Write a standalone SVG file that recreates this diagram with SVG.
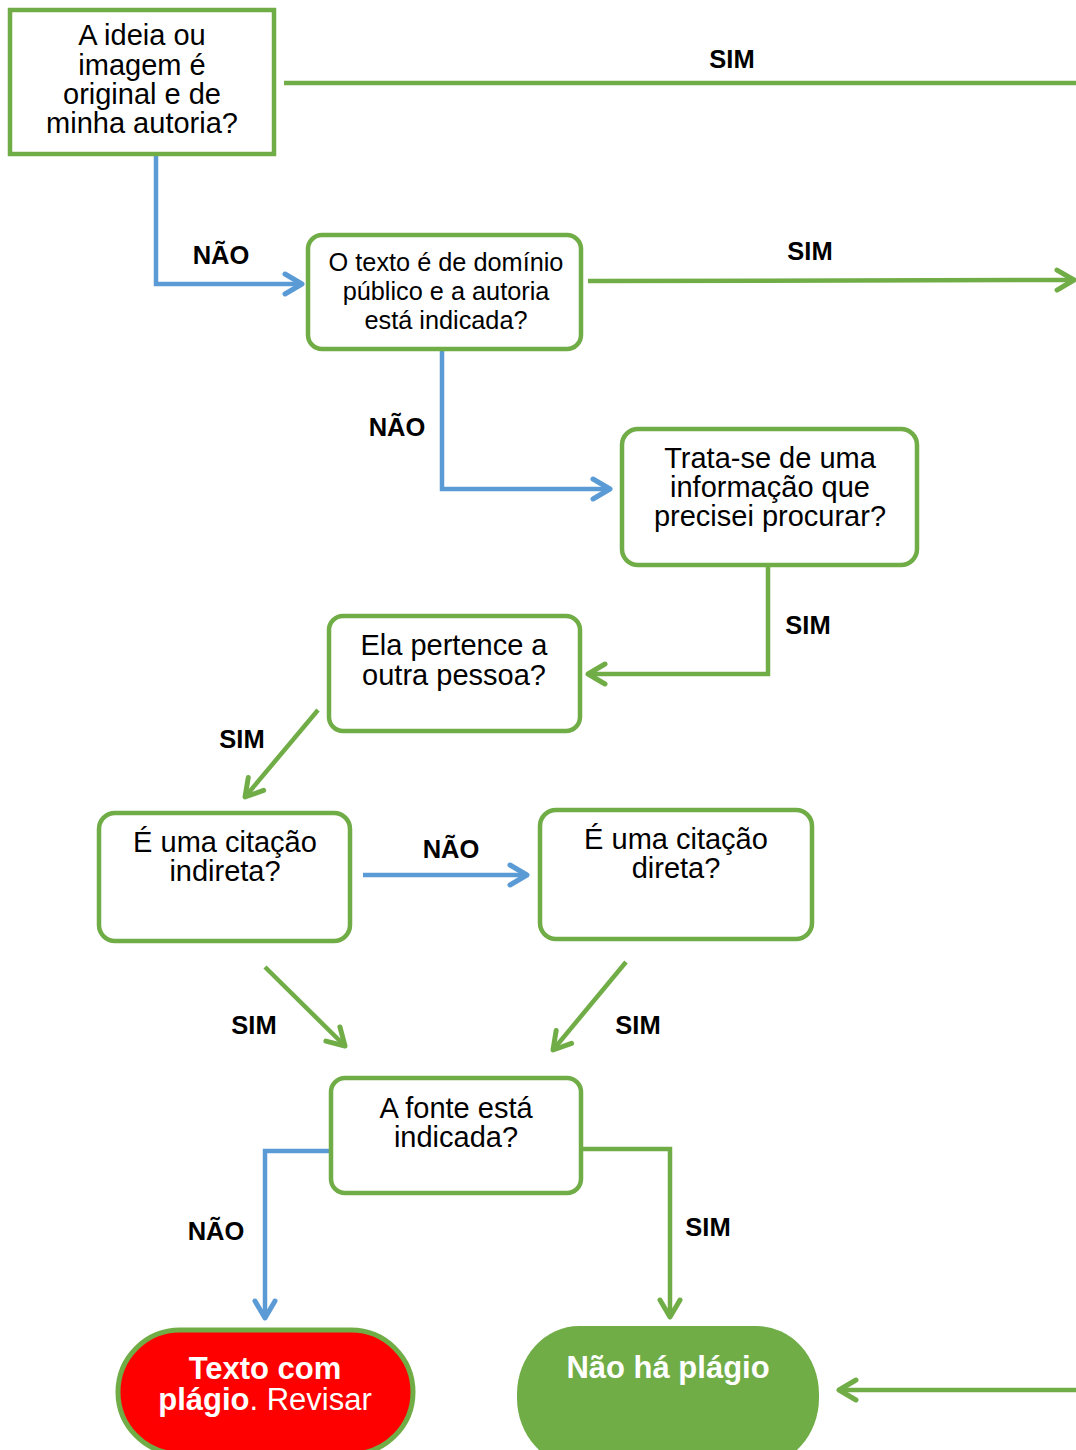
<svg xmlns="http://www.w3.org/2000/svg" width="1076" height="1450" viewBox="0 0 1076 1450">
<defs>
<style>
.box{fill:#fff;stroke:#70AD47;stroke-width:4.5}
.t{font-family:"Liberation Sans",Arial,sans-serif;font-size:29px;fill:#000;text-anchor:middle}
.ts{font-size:25.3px}
.lbl{font-family:"Liberation Sans",Arial,sans-serif;font-size:25.5px;font-weight:bold;fill:#000;text-anchor:middle}
.g{fill:none;stroke:#70AD47;stroke-width:4.5}
.b{fill:none;stroke:#5B9BD5;stroke-width:4.5}
.w{font-family:"Liberation Sans",Arial,sans-serif;font-size:31px;fill:#fff;text-anchor:middle}
</style>
<marker id="ag" viewBox="0 0 26 26" refX="23" refY="13" markerWidth="26" markerHeight="26" markerUnits="userSpaceOnUse" orient="auto">
<path d="M6,3 L23,13 L6,23" fill="none" stroke="#70AD47" stroke-width="5" stroke-linecap="round" stroke-linejoin="round"/>
</marker>
<marker id="ab" viewBox="0 0 26 26" refX="23" refY="13" markerWidth="26" markerHeight="26" markerUnits="userSpaceOnUse" orient="auto">
<path d="M6,3 L23,13 L6,23" fill="none" stroke="#5B9BD5" stroke-width="5" stroke-linecap="round" stroke-linejoin="round"/>
</marker>
</defs>
<rect width="1076" height="1450" fill="#fff"/>

<g id="connectors">
<path class="g" d="M284,83 L1076,83"/>
<path class="b" d="M156,154 L156,284 L302,284" marker-end="url(#ab)"/>
<path class="g" d="M588,281 L1074,280" marker-end="url(#ag)"/>
<path class="b" d="M442,349 L442,489 L610,489" marker-end="url(#ab)"/>
<path class="g" d="M768,565 L768,674 L588,674" marker-end="url(#ag)"/>
<path class="g" d="M318,710 L245,797" marker-end="url(#ag)"/>
<path class="b" d="M363,875 L527,875" marker-end="url(#ab)"/>
<path class="g" d="M265,967 L345,1046" marker-end="url(#ag)"/>
<path class="g" d="M626,962 L553,1050" marker-end="url(#ag)"/>
<path class="b" d="M331,1151 L265,1151 L265,1318" marker-end="url(#ab)"/>
<path class="g" d="M581,1149 L670,1149 L670,1317" marker-end="url(#ag)"/>
<path class="g" d="M1076,1390 L839,1390" marker-end="url(#ag)"/>
<text class="lbl" x="732" y="68">SIM</text>
<text class="lbl" x="221" y="264">NÃO</text>
<text class="lbl" x="810" y="260">SIM</text>
<text class="lbl" x="397" y="436">NÃO</text>
<text class="lbl" x="808" y="634">SIM</text>
<text class="lbl" x="242" y="748">SIM</text>
<text class="lbl" x="451" y="858">NÃO</text>
<text class="lbl" x="254" y="1034">SIM</text>
<text class="lbl" x="638" y="1034">SIM</text>
<text class="lbl" x="216" y="1240">NÃO</text>
<text class="lbl" x="708" y="1236">SIM</text>
</g>

<g id="n1">
<rect class="box" x="10" y="10" width="264" height="144"/>
<text class="t" x="142" y="45">A ideia ou</text>
<text class="t" x="142" y="75">imagem é</text>
<text class="t" x="142" y="104">original e de</text>
<text class="t" x="142" y="133">minha autoria?</text>
</g>

<g id="n2">
<rect class="box" x="308" y="235" width="273" height="114" rx="14"/>
<text class="t ts" x="446" y="271">O texto é de domínio</text>
<text class="t ts" x="446" y="300">público e a autoria</text>
<text class="t ts" x="446" y="329">está indicada?</text>
</g>

<g id="n3">
<rect class="box" x="622" y="429" width="295" height="136" rx="16"/>
<text class="t" x="770" y="468">Trata-se de uma</text>
<text class="t" x="770" y="497">informação que</text>
<text class="t" x="770" y="526">precisei procurar?</text>
</g>

<g id="n4">
<rect class="box" x="329" y="616" width="251" height="115" rx="14"/>
<text class="t" x="454" y="655">Ela pertence a</text>
<text class="t" x="454" y="685">outra pessoa?</text>
</g>

<g id="n5">
<rect class="box" x="99" y="813" width="251" height="128" rx="16"/>
<text class="t" x="225" y="852">É uma citação</text>
<text class="t" x="225" y="881">indireta?</text>
</g>

<g id="n6">
<rect class="box" x="540" y="810" width="272" height="129" rx="16"/>
<text class="t" x="676" y="849">É uma citação</text>
<text class="t" x="676" y="878">direta?</text>
</g>

<g id="n7">
<rect class="box" x="331" y="1078" width="250" height="115" rx="14"/>
<text class="t" x="456" y="1118">A fonte está</text>
<text class="t" x="456" y="1147">indicada?</text>
</g>

<g id="n8">
<rect x="118" y="1330" width="295" height="124" rx="62" fill="#FF0000" stroke="#70AD47" stroke-width="5"/>
<text class="w" x="265" y="1379" font-weight="bold">Texto com</text>
<text class="w" x="265" y="1410"><tspan font-weight="bold">plágio</tspan>. Revisar</text>
</g>

<g id="n9">
<rect x="517" y="1326" width="302" height="140" rx="62" ry="68" fill="#70AD47"/>
<text class="w" x="668" y="1378" font-weight="bold">Não há plágio</text>
</g>
</svg>
